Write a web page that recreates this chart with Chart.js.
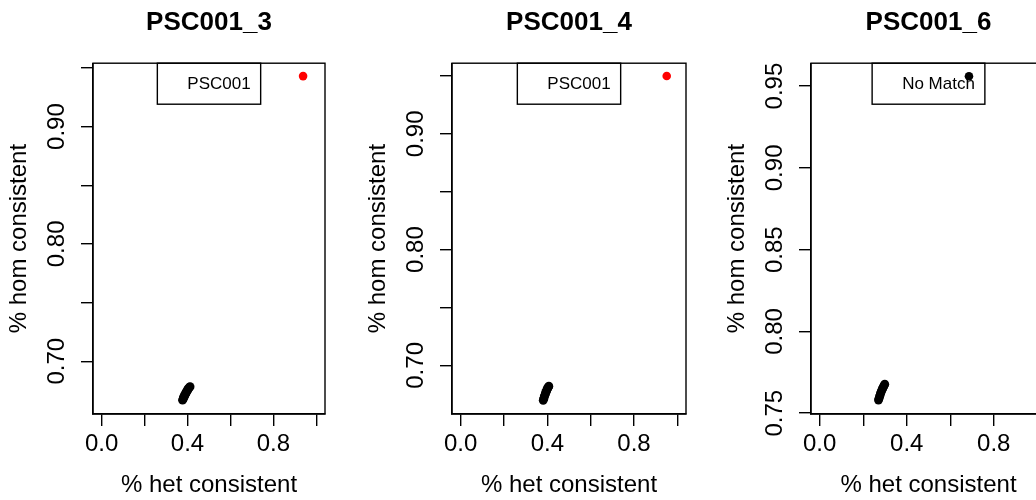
<!DOCTYPE html>
<html><head><meta charset="utf-8">
<script src="https://cdn.jsdelivr.net/npm/chart.js@4.4.1/dist/chart.umd.min.js"></script>
<style>
html,body{margin:0;padding:0;background:#fff;overflow:hidden;}
#wrap{position:relative;width:1036px;height:500px;overflow:hidden;background:#fff;}
canvas{position:absolute;top:0;}
</style></head><body>
<div id="wrap">
<canvas id="c1" width="359" height="500" style="left:0px"></canvas>
<canvas id="c2" width="359" height="500" style="left:359px"></canvas>
<canvas id="c3" width="359" height="500" style="left:718px"></canvas>
</div>
<script>
// ---- data ----
const panelTitles = ['PSC001_3', 'PSC001_4', 'PSC001_6'];
const legendLabels = ['PSC001', 'PSC001', 'No Match'];
const xAxisTitle = '% het consistent';
const yAxisTitle = '% hom consistent';

const xTickValues = [0, 0.2, 0.4, 0.6, 0.8, 1.0];
const xTickLabels = ['0.0', '', '0.4', '', '0.8', ''];
const xRange = [-0.04, 1.04];

const yTickValues1 = [0.70, 0.75, 0.80, 0.85, 0.90, 0.95];
const yTickLabels1 = ['0.70', '', '0.80', '', '0.90', ''];
const yTickValues2 = [0.70, 0.75, 0.80, 0.85, 0.90, 0.95];
const yTickLabels2 = ['0.70', '', '0.80', '', '0.90', ''];
const yTickValues3 = [0.75, 0.80, 0.85, 0.90, 0.95];
const yTickLabels3 = ['0.75', '0.80', '0.85', '0.90', '0.95'];
const yRanges = [[0.655, 0.954], [0.658, 0.961], [0.7495, 0.964]];

// best-matching sample in each panel
const bestX = [0.938, 0.951, 0.686];
const bestY = [0.943, 0.950, 0.956];
const bestColors = ['#ff0000', '#ff0000', '#000000'];

// the other samples (dense cluster)
const cluster1X = [0.377, 0.379, 0.382, 0.381, 0.385, 0.388, 0.387, 0.391, 0.394, 0.393, 0.397, 0.400, 0.403, 0.402, 0.406, 0.409, 0.412];
const cluster1Y = [0.6668, 0.6676, 0.6686, 0.6694, 0.6700, 0.6709, 0.6716, 0.6722, 0.6731, 0.6737, 0.6744, 0.6752, 0.6760, 0.6765, 0.6771, 0.6778, 0.6783];
const cluster2X = [0.381, 0.383, 0.385, 0.386, 0.389, 0.391, 0.392, 0.395, 0.397, 0.399, 0.401, 0.403, 0.405, 0.407];
const cluster2Y = [0.6698, 0.6710, 0.6719, 0.6735, 0.6742, 0.6755, 0.6766, 0.6773, 0.6784, 0.6793, 0.6801, 0.6808, 0.6814, 0.6820];
const cluster3X = [0.270, 0.272, 0.274, 0.276, 0.278, 0.280, 0.282, 0.285, 0.287, 0.290, 0.292, 0.294, 0.297, 0.299];
const cluster3Y = [0.7580, 0.7588, 0.7596, 0.7605, 0.7613, 0.7622, 0.7630, 0.7638, 0.7645, 0.7653, 0.7660, 0.7666, 0.7672, 0.7677];

// ---- rendering ----
const FONT = "'Liberation Sans', Arial, Helvetica, sans-serif";
const clustersX = [cluster1X, cluster2X, cluster3X];
const clustersY = [cluster1Y, cluster2Y, cluster3Y];
const yTickVals = [yTickValues1, yTickValues2, yTickValues3];
const yTickLabs = [yTickLabels1, yTickLabels2, yTickLabels3];
const rightPads = [34, 32, 31];

const framePlugin = {
  id: 'frame',
  afterDatasetsDraw(chart) {
    const {ctx, chartArea: a} = chart;
    ctx.save();
    ctx.strokeStyle = '#000';
    ctx.lineWidth = 1.4;
    ctx.strokeRect(a.left, a.top, a.right - a.left, a.bottom - a.top);
    ctx.restore();
  }
};

const legendBoxPlugin = {
  id: 'legendBox',
  afterDraw(chart, args, opts) {
    const {ctx, chartArea: a} = chart;
    ctx.save();
    ctx.font = '17px ' + FONT;
    const w = ctx.measureText(opts.text).width;
    const boxW = w + 40;
    const boxH = 41;
    const cx = (a.left + a.right) / 2;
    const bx = cx - boxW / 2;
    ctx.strokeStyle = '#000';
    ctx.lineWidth = 1.4;
    ctx.strokeRect(bx, a.top, boxW, boxH);
    ctx.fillStyle = '#000';
    ctx.textBaseline = 'middle';
    ctx.textAlign = 'left';
    ctx.fillText(opts.text, bx + 30, a.top + boxH / 2 + 1);
    ctx.restore();
  }
};

function makeChart(i) {
  const pts = clustersX[i].map((x, k) => ({x: x, y: clustersY[i][k]}));
  new Chart(document.getElementById('c' + (i + 1)), {
    type: 'scatter',
    data: {
      datasets: [
        {data: pts, backgroundColor: '#000', borderWidth: 0, pointRadius: 4.4},
        {data: [{x: bestX[i], y: bestY[i]}], backgroundColor: bestColors[i], borderWidth: 0, pointRadius: 4.3}
      ]
    },
    options: {
      responsive: false,
      animation: false,
      events: [],
      layout: {padding: {left: 0, right: rightPads[i], top: 0, bottom: 0}},
      plugins: {
        legend: {display: false},
        tooltip: {enabled: false},
        title: {
          display: true, text: panelTitles[i], color: '#000', fullSize: false,
          font: {family: FONT, size: 26, weight: 'bold'},
          padding: {top: 7, bottom: 25}
        },
        legendBox: {text: legendLabels[i]}
      },
      scales: {
        x: {
          type: 'linear', position: 'bottom', min: xRange[0], max: xRange[1],
          afterBuildTicks: s => { s.ticks = xTickValues.map(v => ({value: v})); },
          afterFit: s => { s.height = 86; },
          ticks: {
            autoSkip: false, maxRotation: 0, minRotation: 0, color: '#000', padding: 4,
            font: {family: FONT, size: 24},
            callback: (v, idx) => xTickLabels[idx]
          },
          grid: {drawOnChartArea: false, drawTicks: true, tickLength: 12, color: '#000', lineWidth: 1.4},
          border: {display: true, color: '#000', width: 1.4},
          title: {display: true, text: xAxisTitle, color: '#000', font: {family: FONT, size: 24}, padding: {top: 0, bottom: 0}}
        },
        y: {
          type: 'linear', position: 'left', min: yRanges[i][0], max: yRanges[i][1],
          afterBuildTicks: s => { s.ticks = yTickVals[i].map(v => ({value: v})); },
          afterFit: s => { s.width = 93; },
          ticks: {
            autoSkip: false, minRotation: 90, maxRotation: 90, crossAlign: 'center', color: '#000', padding: 0,
            font: {family: FONT, size: 24},
            callback: (v, idx) => yTickLabs[i][idx]
          },
          grid: {drawOnChartArea: false, drawTicks: true, tickLength: 12, color: '#000', lineWidth: 1.4},
          border: {display: true, color: '#000', width: 1.4},
          title: {display: true, text: yAxisTitle, color: '#000', font: {family: FONT, size: 24}, padding: {top: 5, bottom: 0}}
        }
      }
    },
    plugins: [framePlugin, legendBoxPlugin]
  });
}
[0, 1, 2].forEach(makeChart);
</script>
</body></html>
